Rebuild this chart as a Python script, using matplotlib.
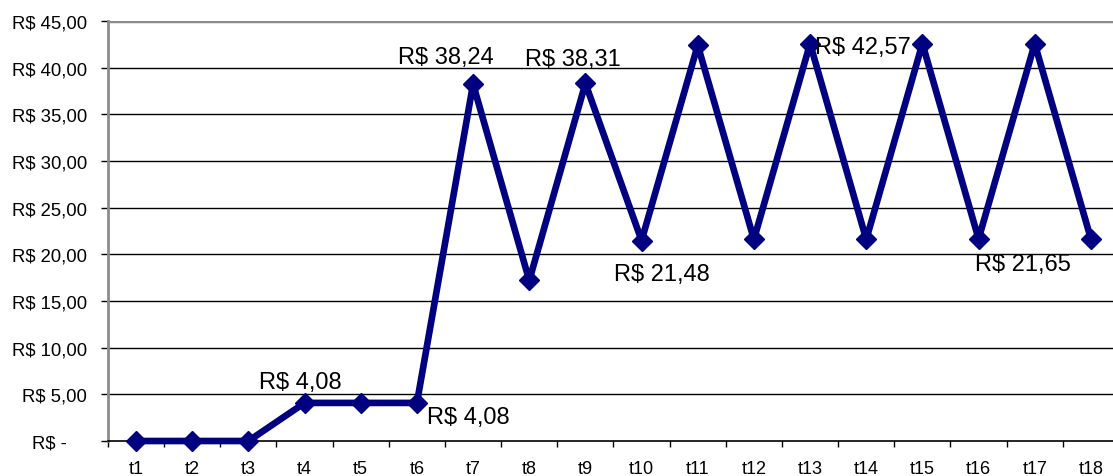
import matplotlib
matplotlib.use("Agg")
import matplotlib.pyplot as plt
from matplotlib.ticker import FixedLocator, FuncFormatter, NullFormatter

categories = ["t1", "t2", "t3", "t4", "t5", "t6", "t7", "t8", "t9", "t10",
              "t11", "t12", "t13", "t14", "t15", "t16", "t17", "t18"]
values = [0, 0, 0, 4.08, 4.08, 4.08, 38.24, 17.2, 38.31, 21.48,
          42.4, 21.6, 42.57, 21.6, 42.57, 21.65, 42.57, 21.65]
label_idx = [3, 5, 6, 8, 9, 12, 15]
label_off = [(-4, 21), (51, -14), (-27, 27), (-13, 24), (20, -33), (53, -3), (44, -25)]
yticks = [0, 5, 10, 15, 20, 25, 30, 35, 40, 45]

plt.rcParams['font.family'] = ['Liberation Sans', 'DejaVu Sans']

fig = plt.figure(figsize=(11.13, 4.77), dpi=100)
ax = fig.add_axes([108/1113, 35/477, 1011/1113, 420/477])

x = list(range(len(categories)))
ax.plot(x, values, color='#000080', lw=4.8, marker='D', ms=10.5,
        markerfacecolor='#000080', markeredgecolor='#000080', zorder=3, clip_on=False)

for i, (dx, dy) in zip(label_idx, label_off):
    v = values[i]
    txt = "R$ " + f"{v:.2f}".replace('.', ',')
    ax.annotate(txt, (i, v), xytext=(dx, dy), textcoords='offset pixels',
                ha='center', va='center', fontsize=17, color='black', zorder=4)

ax.set_xlim(-0.5, len(categories) - 0.5)
ax.set_ylim(0, 45)
ax.set_yticks(yticks)

def yfmt(v, pos):
    if v == 0:
        return "R$ -    "
    return "R$ " + f"{v:.2f}".replace('.', ',')

ax.yaxis.set_major_formatter(FuncFormatter(yfmt))
for y in yticks[1:-1]:
    ax.axhline(y, color='black', lw=1, zorder=1)
ax.axhline(45, color='#8c8c8c', lw=2.5, zorder=1)

ax.xaxis.set_major_locator(FixedLocator([i - 0.5 for i in range(len(categories) + 1)]))
ax.xaxis.set_major_formatter(NullFormatter())
ax.xaxis.set_minor_locator(FixedLocator(x))
ax.xaxis.set_minor_formatter(FuncFormatter(lambda v, p: categories[int(round(v))]))
ax.tick_params(axis='x', which='major', length=4, width=1, color='black', direction='out')
ax.tick_params(axis='x', which='minor', length=0, labelsize=13, pad=14)
ax.tick_params(axis='y', length=5, width=1, color='black', labelsize=13.3, pad=10)

for s in ['top', 'right']:
    ax.spines[s].set_visible(False)
ax.spines['left'].set_color('#8c8c8c')
ax.spines['left'].set_linewidth(2)
ax.spines['bottom'].set_color('black')
ax.spines['bottom'].set_linewidth(1.2)

fig.savefig("out.png", dpi=100)
